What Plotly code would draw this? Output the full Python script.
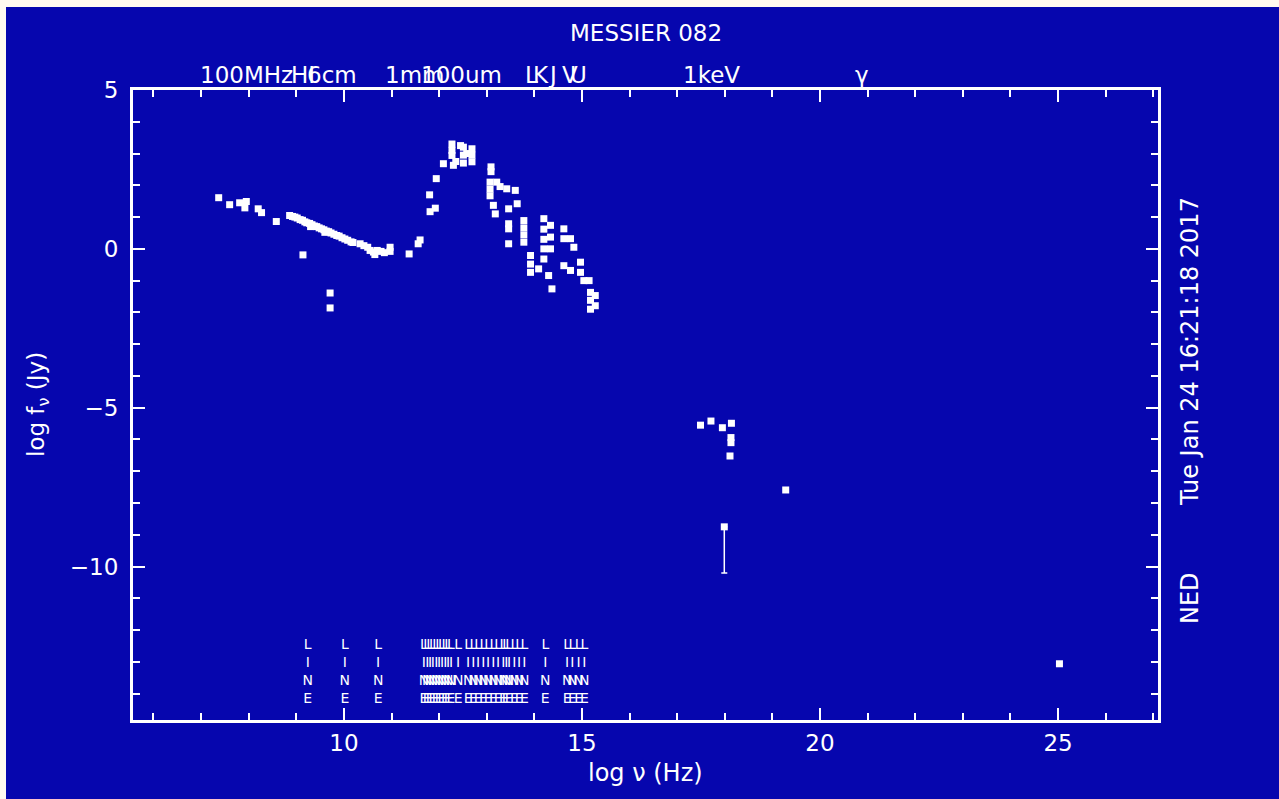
import plotly.graph_objects as go

# ---------------- data ----------------
log_nu = [
    7.37, 7.60, 7.81, 7.95, 7.92, 8.20, 8.27, 8.58,
    8.86, 8.92, 8.97, 9.02, 9.08, 9.13, 9.18, 9.22, 9.28, 9.33, 9.30, 9.38,
    9.43, 9.48, 9.53, 9.58, 9.60, 9.63, 9.68, 9.73, 9.79, 9.85, 9.90, 9.96,
    10.02, 10.08, 10.15, 10.19, 9.14, 9.71, 9.71,
    10.34, 10.42, 10.50, 10.55, 10.62, 10.65, 10.70, 10.78, 10.85, 10.97, 10.97,
    11.37, 11.56, 11.60, 11.81, 11.92, 11.80, 11.94, 12.09,
    12.27, 12.27, 12.27, 12.30, 12.35, 12.45, 12.51, 12.51, 12.51, 12.58,
    12.69, 12.69, 12.69,
    13.09, 13.09, 13.07, 13.07, 13.07, 13.21, 13.28, 13.42, 13.60, 13.14,
    13.18, 13.46, 13.64, 13.46, 13.46, 13.46, 13.78, 13.78, 13.78, 13.78,
    13.92, 13.92, 13.92, 14.09, 14.20, 14.20, 14.20, 14.20, 14.20, 14.34,
    14.34, 14.34, 14.30, 14.37, 14.62, 14.62, 14.76, 14.83, 14.62, 14.76,
    14.97, 14.97, 15.04, 15.15, 15.18, 15.18, 15.18, 15.28, 15.28,
    17.49, 17.71, 17.95, 18.14, 18.13, 18.13, 18.11, 19.28, 25.03,
]
log_fnu = [
    1.61, 1.39, 1.45, 1.49, 1.29, 1.26, 1.14, 0.86,
    1.05, 1.02, 1.00, 0.97, 0.92, 0.90, 0.85, 0.82, 0.80, 0.76, 0.70, 0.72,
    0.70, 0.66, 0.63, 0.60, 0.52, 0.56, 0.54, 0.50, 0.46, 0.42, 0.40, 0.35,
    0.31, 0.27, 0.22, 0.20, -0.19, -1.39, -1.86,
    0.16, 0.10, 0.05, -0.05, -0.10, -0.18, -0.05, -0.08, -0.12, 0.05, -0.08,
    -0.16, 0.16, 0.28, 1.17, 1.28, 1.70, 2.21, 2.68,
    3.30, 3.10, 2.94, 2.63, 2.75, 3.25, 3.20, 2.95, 2.70, 3.00,
    3.15, 2.95, 2.74,
    2.58, 2.43, 2.10, 1.88, 1.67, 2.10, 1.96, 1.89, 1.84, 1.37,
    1.10, 1.26, 1.42, 0.79, 0.63, 0.16, 0.89, 0.66, 0.44, 0.21,
    -0.21, -0.48, -0.74, -0.63, 0.95, 0.62, 0.30, 0.00, -0.32, 0.74,
    0.37, 0.00, -0.84, -1.26, 0.63, 0.32, 0.32, 0.05, -0.53, -0.68,
    -0.42, -0.74, -1.00, -1.00, -1.37, -1.62, -1.90, -1.47, -1.79,
    -5.55, -5.42, -5.63, -5.49, -5.94, -6.10, -6.52, -7.59, -13.06,
]

# point with a downward error bar
err_nu = [17.99]
err_fnu = [-8.75]
err_minus = [1.45]

# spectral-line markers ("LINE")
line_nu = [9.24, 10.02, 10.72,
           11.68, 11.75, 11.81, 11.87, 11.94, 12.00, 12.06, 12.13, 12.19, 12.25,
           12.40, 12.61, 12.72, 12.82, 12.93, 13.03, 13.14, 13.24, 13.35, 13.41,
           13.47, 13.58, 13.68, 13.79, 14.23, 14.69, 14.80, 14.93, 15.05]
line_label = "L<br>I<br>N<br>E"
line_level = -13.33

# top wavelength / energy labels
top_labels = ["100MHz", "HI", "6cm", "1mm", "100um", "L", "K", "J", "V", "U", "1keV", "γ"]
top_pos = [7.96, 9.15, 9.75, 11.48, 12.48, 13.93, 14.13, 14.38, 14.74, 14.92, 17.72, 20.88]

x_range = [5.57, 27.1]
y_range = [-14.83, 5.0]
x_ticks = [10, 15, 20, 25]
y_ticks = [5, 0, -5, -10]

title_text = "MESSIER 082"
x_title = "log ν (Hz)"
y_title = "log f<sub>ν</sub> (Jy)"
date_text = "Tue Jan 24 16:21:18 2017"
ned_text = "NED"

# ---------------- style ----------------
BLUE = "#0606AE"
CREAM = "#FFFAF0"
WHITE = "white"
FONT = "DejaVu Sans"

W, H = 1279, 799
ML, MR, MT, MB = 133, 121, 90, 79
PW, PH = W - ML - MR, H - MT - MB


def px_to_paper_x(px):
    return (px - ML) / PW


def px_to_paper_y(py):
    return (H - MB - py) / PH


fig = go.Figure()

fig.add_trace(go.Scatter(
    x=log_nu, y=log_fnu, mode="markers",
    marker=dict(symbol="square", size=7, color=WHITE, line=dict(width=0)),
    hoverinfo="skip", showlegend=False,
))

fig.add_trace(go.Scatter(
    x=err_nu, y=err_fnu, mode="markers",
    marker=dict(symbol="square", size=7, color=WHITE),
    error_y=dict(type="data", symmetric=False, array=[0] * len(err_nu),
                 arrayminus=err_minus, color=WHITE, thickness=1.5, width=3),
    hoverinfo="skip", showlegend=False,
))

fig.add_trace(go.Scatter(
    x=line_nu, y=[line_level] * len(line_nu), mode="text",
    text=[line_label] * len(line_nu), textposition="middle center",
    textfont=dict(family=FONT, size=14, color=WHITE),
    hoverinfo="skip", showlegend=False,
))

axis_common = dict(
    showgrid=False, zeroline=False,
    showline=True, linecolor=WHITE, linewidth=3, mirror="ticks",
    ticks="inside", ticklen=12, tickwidth=2, tickcolor=WHITE,
    tickfont=dict(family=FONT, size=23, color=WHITE),
    minor=dict(ticks="inside", ticklen=7, tickwidth=2, tickcolor=WHITE, dtick=1, showgrid=False),
)

fig.update_xaxes(range=x_range, tickvals=x_ticks, ticklabelstandoff=0, **axis_common)
fig.update_yaxes(range=y_range, tickvals=y_ticks, ticklabelstandoff=7, **axis_common)

annotations = [
    dict(text=title_text, x=0.5, y=px_to_paper_y(33), xref="paper", yref="paper",
         showarrow=False, xanchor="center", yanchor="middle",
         font=dict(family=FONT, size=23, color=WHITE)),
    dict(text=x_title, x=0.5, y=px_to_paper_y(773), xref="paper", yref="paper",
         showarrow=False, xanchor="center", yanchor="middle",
         font=dict(family=FONT, size=24, color=WHITE)),
    dict(text=y_title, x=px_to_paper_x(38), y=0.5, xref="paper", yref="paper",
         showarrow=False, xanchor="center", yanchor="middle", textangle=-90,
         font=dict(family=FONT, size=23, color=WHITE)),
    dict(text=date_text, x=px_to_paper_x(1190), y=px_to_paper_y(352), xref="paper", yref="paper",
         showarrow=False, xanchor="center", yanchor="middle", textangle=-90,
         font=dict(family=FONT, size=24, color=WHITE)),
    dict(text=ned_text, x=px_to_paper_x(1190), y=px_to_paper_y(598), xref="paper", yref="paper",
         showarrow=False, xanchor="center", yanchor="middle", textangle=-90,
         font=dict(family=FONT, size=24, color=WHITE)),
]
for lab, pos in zip(top_labels, top_pos):
    annotations.append(dict(
        text=lab, x=pos, y=px_to_paper_y(75), xref="x", yref="paper",
        showarrow=False, xanchor="center", yanchor="middle",
        font=dict(family=FONT, size=23, color=WHITE)))

fig.update_layout(
    width=W, height=H,
    margin=dict(l=ML, r=MR, t=MT, b=MB, pad=0),
    paper_bgcolor=CREAM, plot_bgcolor=BLUE,
    annotations=annotations,
    shapes=[dict(type="rect", xref="paper", yref="paper", layer="below",
                 x0=px_to_paper_x(6), x1=px_to_paper_x(W + 5),
                 y0=px_to_paper_y(H + 5), y1=px_to_paper_y(7),
                 fillcolor=BLUE, line=dict(width=0))],
    showlegend=False,
)

fig.write_html("out.html")
